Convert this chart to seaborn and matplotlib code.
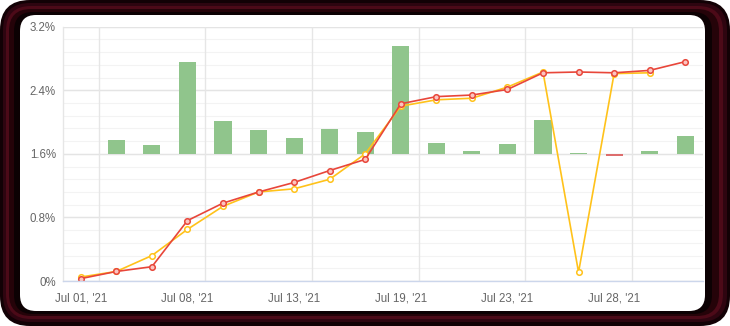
import numpy as np
import pandas as pd
import matplotlib
matplotlib.use("Agg")
import matplotlib.pyplot as plt
from matplotlib.patches import FancyBboxPatch
import seaborn as sns

# ---- data ----
dates = ["Jul 01, '21", "Jul 02, '21", "Jul 07, '21", "Jul 08, '21", "Jul 09, '21",
         "Jul 12, '21", "Jul 13, '21", "Jul 14, '21", "Jul 16, '21", "Jul 19, '21",
         "Jul 20, '21", "Jul 22, '21", "Jul 23, '21", "Jul 26, '21", "Jul 27, '21",
         "Jul 28, '21", "Jul 29, '21", "Jul 30, '21"]
red_series = [0.03, 0.12, 0.18, 0.76, 0.98, 1.12, 1.24, 1.39, 1.53, 2.23,
              2.32, 2.34, 2.41, 2.62, 2.63, 2.62, 2.65, 2.76]
yellow_series = [0.05, 0.12, 0.32, 0.65, 0.94, 1.12, 1.16, 1.28, 1.60, 2.20,
                 2.28, 2.30, 2.44, 2.63, 0.11, 2.61, 2.62, np.nan]
bar_delta = [0.0, 0.17, 0.11, 1.15, 0.41, 0.30, 0.20, 0.31, 0.28, 1.36,
             0.14, 0.04, 0.12, 0.42, 0.01, -0.03, 0.04, 0.22]
bar_base = 1.6
y_ticks = [0, 0.8, 1.6, 2.4, 3.2]
y_tick_labels = ["0%", "0.8%", "1.6%", "2.4%", "3.2%"]
label_every = 3

df = pd.DataFrame({
    "date": dates,
    "idx": np.arange(len(dates)),
    "red": red_series,
    "yellow": yellow_series,
    "bar": bar_delta,
})
df["sign"] = np.where(df["bar"] < 0, "neg", "pos")

sns.set_theme(style="white")
plt.rcParams["font.family"] = ["Liberation Sans", "DejaVu Sans"]

W, H = 730, 326
fig = plt.figure(figsize=(W / 100, H / 100), dpi=100)
fig.patch.set_facecolor("white")

# frame
def rbox(x0, y0, x1, y1, r, fc, z):
    p = FancyBboxPatch((x0 / W, 1 - y1 / H), (x1 - x0) / W, (y1 - y0) / H,
                       boxstyle=f"round,pad=0,rounding_size={r / W}",
                       transform=fig.transFigure, facecolor=fc, edgecolor="none",
                       zorder=z, mutation_aspect=W / H)
    fig.patches.append(p)

rbox(0, 0, 730, 326, 30, "#120105", -10)
rbox(3, 3, 727, 322, 27, "#2e0510", -9)
rbox(6, 6, 723, 319, 25, "#4c0a18", -8)
rbox(9, 9, 719, 316, 22, "#250309", -7)
rbox(14, 12, 712, 314, 19, "#0c0103", -6.5)
rbox(20, 15, 705, 311, 16, "white", -6)

ax = fig.add_axes([63 / W, 45 / H, (703 - 63) / W, (281 - 26.7) / H])
ax.set_facecolor("none")

# bars
sns.barplot(data=df, x="idx", y="bar", hue="sign",
            palette={"pos": "#88cf82", "neg": "#f05a5a"},
            bottom=bar_base, width=0.48, dodge=False, legend=False,
            linewidth=0, ax=ax, zorder=2, order=list(range(len(dates))))

# lines
sns.lineplot(data=df, x="idx", y="yellow", color="#ffc21a", lw=1.2,
             marker="o", markersize=4, markerfacecolor="white",
             markeredgecolor="#ffc21a", markeredgewidth=1.1, ax=ax, zorder=3)
sns.lineplot(data=df, x="idx", y="red", color="#e8463a", lw=1.2,
             marker="o", markersize=4, markerfacecolor="#fbc4c0",
             markeredgecolor="#e8463a", markeredgewidth=1.1, ax=ax, zorder=4)

ax.set_xlim(-0.5, len(dates) - 0.5)
ax.set_ylim(0, 3.2)

# grid
for v in np.arange(0, 3.2001, 0.16):
    ax.axhline(v, color="#f3f3f3", lw=0.8, zorder=0)
for v in y_ticks:
    ax.axhline(v, color="#e4e4e4", lw=1.0, zorder=0.5)
for k in range(0, len(dates), label_every):
    ax.axvline(k + 0.5, color="#e6e6e6", lw=1.0, zorder=0.5)

ax.set_yticks(y_ticks)
ax.set_yticklabels(y_tick_labels)
pos = list(range(0, len(dates), label_every))
ax.set_xticks(pos)
ax.set_xticklabels([dates[i] for i in pos])
ax.tick_params(axis="both", length=0, colors="#666666", labelsize=8.3)
ax.tick_params(axis="y", pad=5)
ax.tick_params(axis="x", pad=8)
ax.set_xlabel("")
ax.set_ylabel("")

for s in ["top", "right"]:
    ax.spines[s].set_visible(False)
ax.spines["left"].set_color("#e6e6e6")
ax.spines["left"].set_linewidth(1.0)
ax.spines["bottom"].set_color("#ccd6eb")
ax.spines["bottom"].set_linewidth(1.0)
ax.spines["bottom"].set_zorder(5)

fig.savefig("out.png", dpi=100, facecolor=fig.get_facecolor())
